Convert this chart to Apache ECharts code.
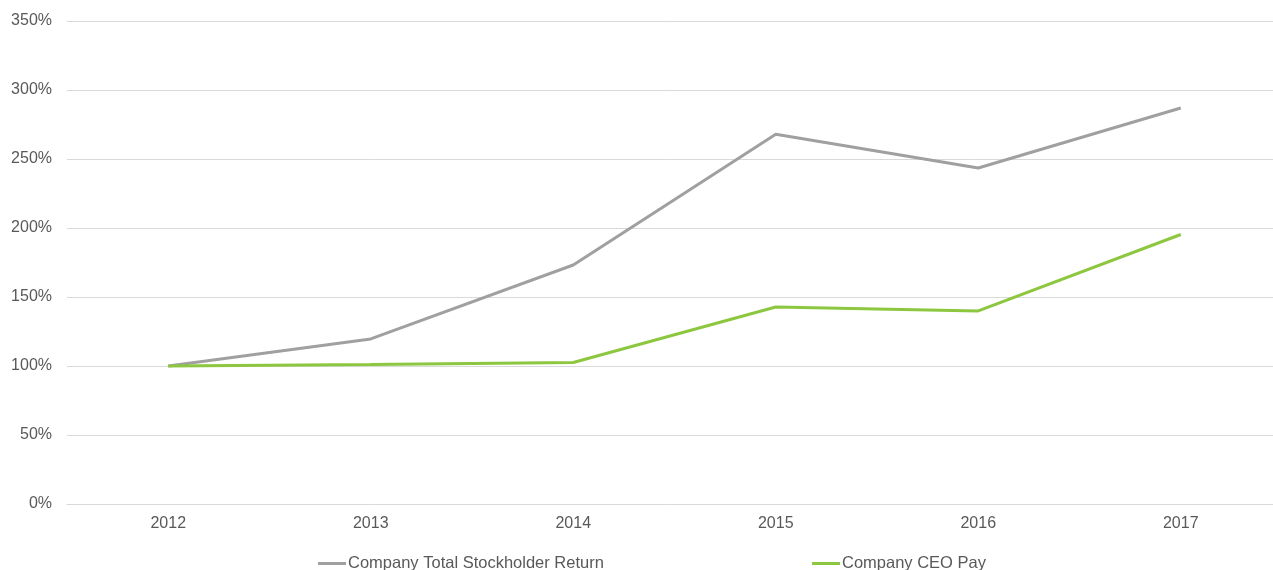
<!DOCTYPE html>
<html>
<head>
<meta charset="utf-8">
<script src="https://cdn.jsdelivr.net/npm/echarts@6/dist/echarts.min.js"></script>
<style>
html,body{margin:0;padding:0;background:#fff;}
#chart{width:1273px;height:570px;}
</style>
</head>
<body>
<div id="chart"></div>
<script>
const years = ['2012', '2013', '2014', '2015', '2016', '2017'];
const tsrName = 'Company Total Stockholder Return';
const ceoName = 'Company CEO Pay';
const tsrValues = [100, 119.6, 173.2, 268, 243.5, 287];
const ceoValues = [100, 101.1, 102.5, 142.8, 139.9, 195.3];

const chart = echarts.init(document.getElementById('chart'));
const font = 'Liberation Sans, Arial, sans-serif';
chart.setOption({
  animation: false,
  backgroundColor: '#ffffff',
  grid: { left: 67, width: 1215, top: 21, bottom: 66, containLabel: false, outerBoundsMode: 'none' },
  legend: [
    { data: [tsrName], left: 313, top: 550, icon: 'rect', itemWidth: 28, itemHeight: 3, itemGap: 0,
      textStyle: { color: '#595959', fontSize: 16.5, fontFamily: font, padding: [0, 0, 0, -3] } },
    { data: [ceoName], left: 807, top: 550, icon: 'rect', itemWidth: 28, itemHeight: 3, itemGap: 0,
      textStyle: { color: '#595959', fontSize: 16.5, fontFamily: font, padding: [0, 0, 0, -3] } }
  ],
  xAxis: {
    type: 'category',
    data: years,
    boundaryGap: true,
    axisLine: { show: true, lineStyle: { color: '#d9d9d9', width: 1 } },
    axisTick: { show: false },
    axisLabel: { color: '#595959', fontSize: 16, fontFamily: font, margin: 12 }
  },
  yAxis: {
    type: 'value',
    min: 0, max: 350, interval: 50,
    axisLine: { show: false },
    axisTick: { show: false },
    splitLine: { lineStyle: { color: '#d9d9d9', width: 1 } },
    axisLabel: { color: '#595959', fontSize: 16, fontFamily: font, margin: 15, formatter: v => v + '%' }
  },
  series: [
    { name: tsrName, type: 'line', data: tsrValues, symbol: 'none',
      lineStyle: { color: '#a0a0a0', width: 3 }, itemStyle: { color: '#a0a0a0' } },
    { name: ceoName, type: 'line', data: ceoValues, symbol: 'none',
      lineStyle: { color: '#8dc63f', width: 3 }, itemStyle: { color: '#8dc63f' } }
  ]
});
</script>
</body>
</html>
